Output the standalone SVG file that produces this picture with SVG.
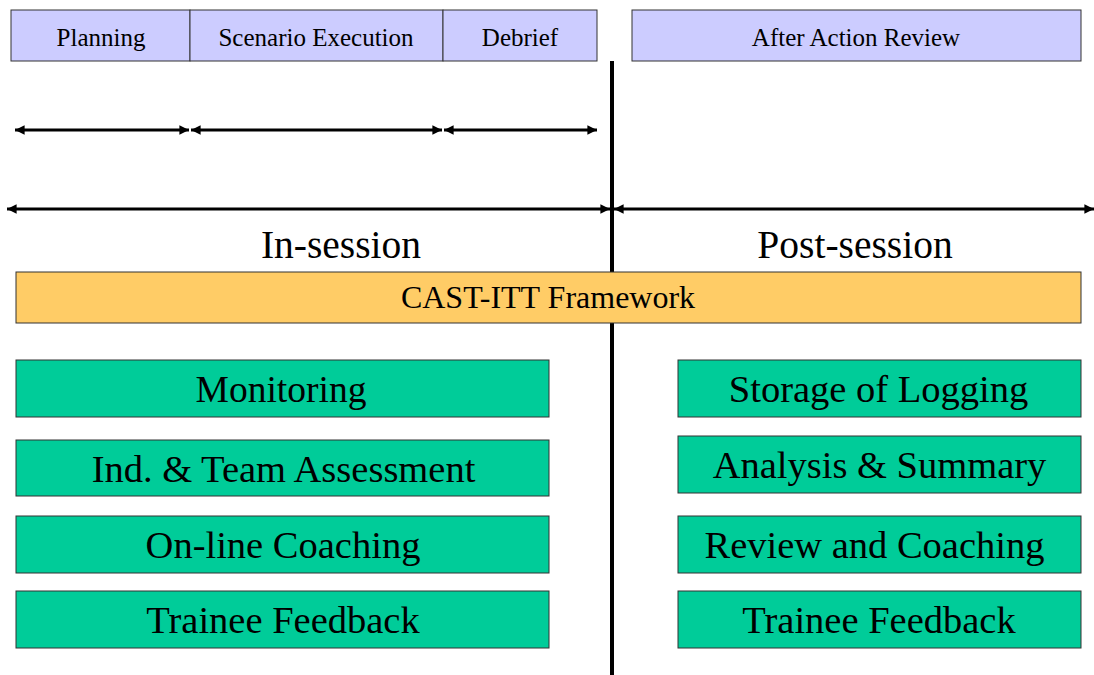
<svg xmlns="http://www.w3.org/2000/svg" width="1094" height="675" viewBox="0 0 1094 675">
  <style>
    .phase { fill: #CCCCFF; stroke: #333333; stroke-width: 1; }
    .frame { fill: #FFCC66; stroke: #333333; stroke-width: 1; }
    .task { fill: #00CC99; stroke: #333333; stroke-width: 1; }
    text { font-family: "Liberation Serif", "Times New Roman", serif; fill: #000000; text-anchor: middle; }
    .small { font-size: 25px; }
    .mid { font-size: 32px; }
    .big { font-size: 38.5px; }
    .head { font-size: 39.5px; }
    .span { stroke: #000000; stroke-width: 3; fill: none; marker-start: url(#tipStart); marker-end: url(#tipEnd); }
  </style>
  <defs>
    <marker id="tipEnd" viewBox="0 0 10 10" refX="10" refY="5" markerWidth="3.2" markerHeight="3.2" orient="auto" markerUnits="strokeWidth">
      <path d="M0,0 L10,5 L0,10 Z" fill="#000000"/>
    </marker>
    <marker id="tipStart" viewBox="0 0 10 10" refX="0" refY="5" markerWidth="3.2" markerHeight="3.2" orient="auto" markerUnits="strokeWidth">
      <path d="M10,0 L0,5 L10,10 Z" fill="#000000"/>
    </marker>
  </defs>

  <rect width="1094" height="675" fill="#FFFFFF"/>

  <!-- phase header -->
  <g id="planning">
    <rect class="phase" x="11" y="10" width="179" height="51"/>
    <text class="small" x="101" y="46">Planning</text>
  </g>
  <g id="scenario-execution">
    <rect class="phase" x="190" y="10" width="253" height="51"/>
    <text class="small" x="316" y="46">Scenario Execution</text>
  </g>
  <g id="debrief">
    <rect class="phase" x="443" y="10" width="154" height="51"/>
    <text class="small" x="520" y="46">Debrief</text>
  </g>
  <g id="after-action-review">
    <rect class="phase" x="632" y="10" width="449" height="51"/>
    <text class="small" x="856" y="46">After Action Review</text>
  </g>

  <!-- spans and divider -->
  <g id="connectors">
    <line x1="612" y1="61" x2="612" y2="675" stroke="#000000" stroke-width="4"/>
    <line class="span" x1="15" y1="130" x2="189" y2="130"/>
    <line class="span" x1="191" y1="130" x2="442" y2="130"/>
    <line class="span" x1="444" y1="130" x2="597" y2="130"/>
    <line class="span" x1="7" y1="209" x2="610" y2="209"/>
    <line class="span" x1="614" y1="209" x2="1094" y2="209"/>
  </g>

  <g id="in-session">
    <text class="head" x="341" y="258">In-session</text>
  </g>
  <g id="post-session">
    <text class="head" x="855" y="258">Post-session</text>
  </g>

  <g id="cast-itt-framework">
    <rect class="frame" x="16" y="272" width="1065" height="51"/>
    <text class="mid" x="548" y="308">CAST-ITT Framework</text>
  </g>

  <!-- in-session tasks -->
  <g id="monitoring">
    <rect class="task" x="16" y="360" width="533" height="57"/>
    <text class="big" x="281" y="402" style="font-size:37.5px">Monitoring</text>
  </g>
  <g id="assessment">
    <rect class="task" x="16" y="440" width="533" height="56"/>
    <text class="big" x="283.5" y="482">Ind. &amp; Team Assessment</text>
  </g>
  <g id="online-coaching">
    <rect class="task" x="16" y="516" width="533" height="57"/>
    <text class="big" x="283" y="558">On-line Coaching</text>
  </g>
  <g id="trainee-feedback-in">
    <rect class="task" x="16" y="591" width="533" height="57"/>
    <text class="big" x="283" y="633">Trainee Feedback</text>
  </g>

  <!-- post-session tasks -->
  <g id="storage-of-logging">
    <rect class="task" x="678" y="360" width="403" height="57"/>
    <text class="big" x="878.5" y="402">Storage of Logging</text>
  </g>
  <g id="analysis-summary">
    <rect class="task" x="678" y="436" width="403" height="57"/>
    <text class="big" x="879.5" y="478">Analysis &amp; Summary</text>
  </g>
  <g id="review-coaching">
    <rect class="task" x="678" y="516" width="403" height="57"/>
    <text class="big" x="874.5" y="558">Review and Coaching</text>
  </g>
  <g id="trainee-feedback-post">
    <rect class="task" x="678" y="591" width="403" height="57"/>
    <text class="big" x="879" y="633">Trainee Feedback</text>
  </g>
</svg>
